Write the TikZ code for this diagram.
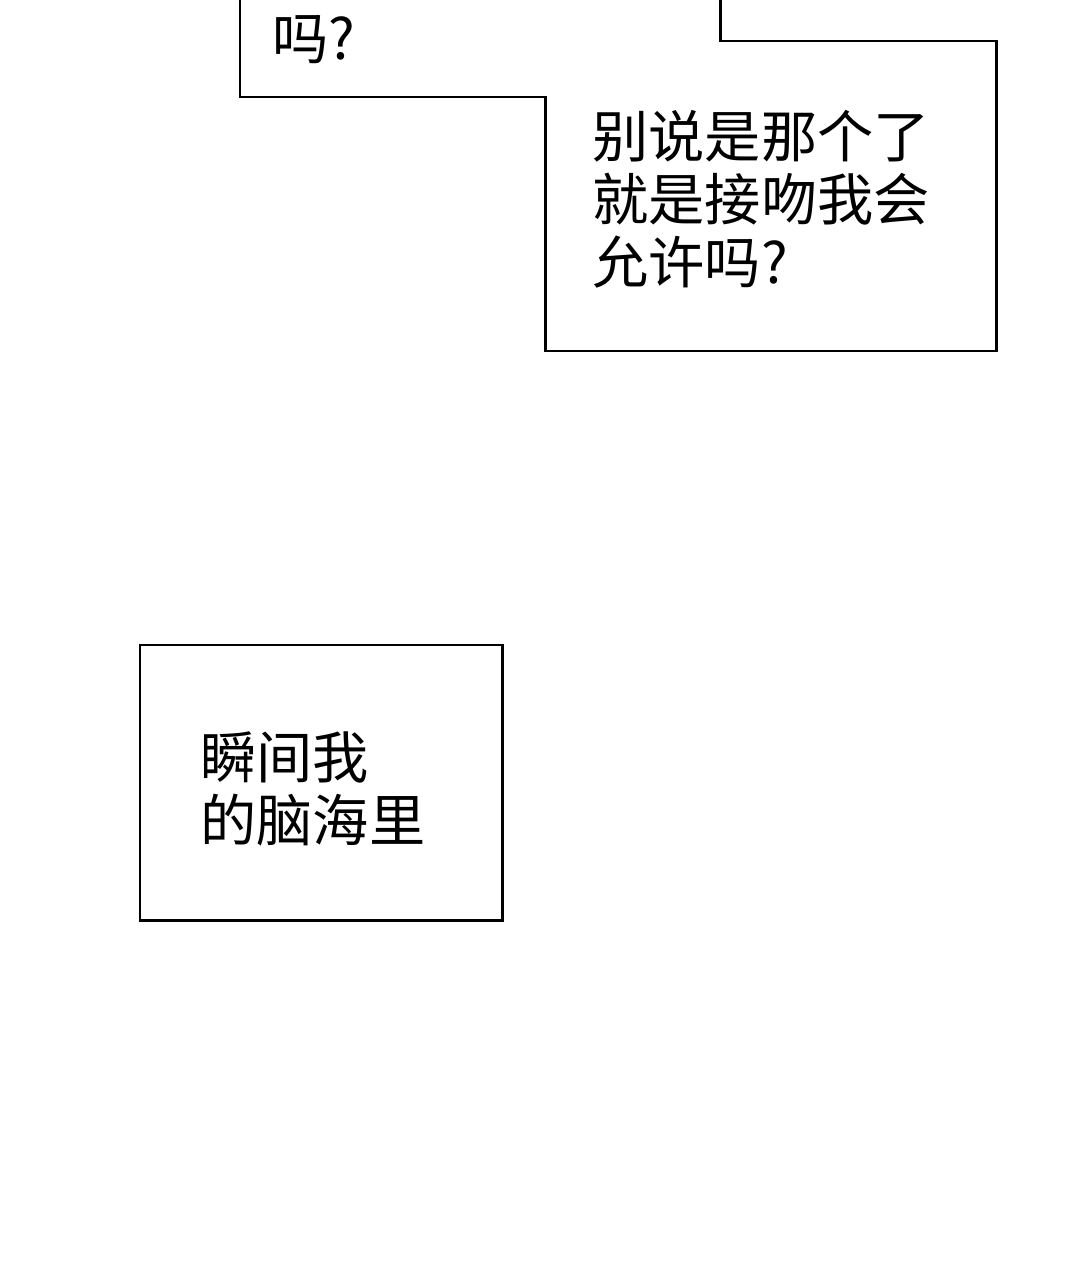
\documentclass[tikz,border=0pt]{standalone}
\usepackage{fontspec}
\newfontfamily\cjk{Noto Sans CJK SC}
\usetikzlibrary{positioning}
\tikzset{
    panel/.style={draw, line width=1.7pt},
    speech/.style={font=\cjk\fontsize{32}{36}\selectfont, align=left, anchor=west, inner sep=0pt}
}
\begin{document}
\begin{tikzpicture}[x=0.02cm, y=-0.02cm]
    \useasboundingbox (0,0) rectangle (1080,1280);
    % merged speech boxes at the top
    \draw [panel] (240,-5) -- (240,97) -- (545,97) -- (545,351) -- (996,351) -- (996,41) -- (720,41) -- (720,-5);
    \node (tail) [speech] at (272,40) {吗?};
    \node (ask) [speech] at (592,199) {别说是那个了\\就是接吻我会\\允许吗?};
    % lower box
    \draw [panel] (140,645) rectangle (502,920);
    \node (mind) [speech] at (200,789) {瞬间我\\的脑海里};
\end{tikzpicture}
\end{document}
